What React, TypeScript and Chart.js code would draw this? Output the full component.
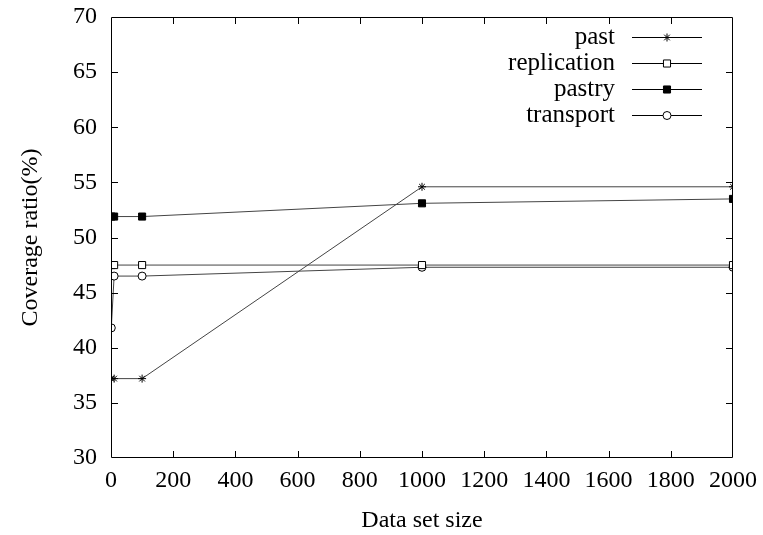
import React, { useEffect, useRef } from "react";
import { Chart, registerables } from "chart.js";

Chart.register(...registerables);

const dataSizes = [1, 10, 100, 1000, 2000];
const pastValues = [37.2, 37.2, 37.2, 54.6, 54.6];
const replicationValues = [47.5, 47.5, 47.5, 47.5, 47.5];
const pastryValues = [51.9, 51.9, 51.9, 53.1, 53.5];
const transportValues = [41.8, 46.5, 46.5, 47.3, 47.3];
const seriesNames = ["past", "replication", "pastry", "transport"];
const xTicks = [0, 200, 400, 600, 800, 1000, 1200, 1400, 1600, 1800, 2000];
const yTicks = [30, 35, 40, 45, 50, 55, 60, 65, 70];

const FONT = "'Liberation Serif', 'Times New Roman', serif";
const LINE = "#444";

function marker(ctx: CanvasRenderingContext2D, style: string, fill: string, r: number, x: number, y: number) {
  ctx.save();
  ctx.strokeStyle = "#000";
  ctx.fillStyle = fill;
  ctx.lineWidth = 1;
  ctx.beginPath();
  if (style === "star") {
    ctx.moveTo(x - r, y); ctx.lineTo(x + r, y);
    ctx.moveTo(x, y - r); ctx.lineTo(x, y + r);
    const d = r * 0.707;
    ctx.moveTo(x - d, y - d); ctx.lineTo(x + d, y + d);
    ctx.moveTo(x - d, y + d); ctx.lineTo(x + d, y - d);
    ctx.stroke();
  } else if (style === "rect") {
    const d = r * 0.707;
    ctx.rect(x - d, y - d, 2 * d, 2 * d);
    ctx.fill();
    ctx.stroke();
  } else {
    ctx.arc(x, y, r, 0, Math.PI * 2);
    ctx.fill();
    ctx.stroke();
  }
  ctx.restore();
}

const mirrorTicks = {
  id: "mirrorTicks",
  afterDatasetsDraw(chart: any) {
    const { ctx, chartArea, scales } = chart;
    const { left, right, top, bottom } = chartArea;
    ctx.save();
    ctx.strokeStyle = "#000";
    ctx.lineWidth = 1;
    ctx.beginPath();
    ctx.rect(left + 0.5, top + 0.5, right - left - 1, bottom - top - 1);
    ctx.stroke();
    const L = 7;
    ctx.beginPath();
    for (const v of xTicks) {
      if (v === 0 || v === 2000) continue;
      const x = Math.round(scales.x.getPixelForValue(v)) + 0.5;
      ctx.moveTo(x, bottom);
      ctx.lineTo(x, bottom - L);
      ctx.moveTo(x, top);
      ctx.lineTo(x, top + L);
    }
    for (const v of yTicks) {
      if (v === 30 || v === 70) continue;
      const y = Math.round(scales.y.getPixelForValue(v)) + 0.5;
      ctx.moveTo(left, y);
      ctx.lineTo(left + L, y);
      ctx.moveTo(right, y);
      ctx.lineTo(right - L, y);
    }
    ctx.stroke();

    ctx.font = `25px ${FONT}`;
    ctx.textAlign = "right";
    ctx.textBaseline = "middle";
    chart.data.datasets.forEach((ds: any, i: number) => {
      const y = 37 + i * 26;
      ctx.fillStyle = "#000";
      ctx.fillText(seriesNames[i], 615, y);
      ctx.strokeStyle = "#000";
      ctx.lineWidth = 1;
      ctx.beginPath();
      ctx.moveTo(632, y + 0.5);
      ctx.lineTo(702, y + 0.5);
      ctx.stroke();
      marker(ctx, ds.pointStyle, ds.pointBackgroundColor, ds.pointRadius, 667, y + 0.5);
    });
    ctx.restore();
  },
};

export default function App() {
  const ref = useRef<HTMLCanvasElement>(null);
  useEffect(() => {
    document.body.style.margin = "0";
    const mk = (label: string, vals: number[], style: string, fill: string, r: number) => ({
      label,
      data: dataSizes.map((x, i) => ({ x, y: vals[i] })),
      borderColor: LINE,
      borderWidth: 1,
      pointStyle: style,
      pointRadius: r,
      pointBackgroundColor: fill,
      pointBorderColor: "#000",
      pointBorderWidth: 1,
      backgroundColor: fill,
      showLine: true,
      tension: 0,
    });
    const chart = new Chart(ref.current!, {
      type: "scatter",
      data: {
        datasets: [
          mk(seriesNames[0], pastValues, "star", "#000", 4),
          mk(seriesNames[1], replicationValues, "rect", "#fff", 5),
          mk(seriesNames[2], pastryValues, "rect", "#000", 5),
          mk(seriesNames[3], transportValues, "circle", "#fff", 4),
        ],
      },
      options: {
        animation: false,
        responsive: false,
        layout: { padding: { top: 17, right: 30, left: 16, bottom: 0 } },
        plugins: { legend: { display: false }, tooltip: { enabled: false } },
        scales: {
          x: {
            type: "linear",
            min: 0,
            max: 2000,
            afterBuildTicks: (s: any) => {
              s.ticks = xTicks.map((v) => ({ value: v }));
            },
            afterFit: (s: any) => {
              s.height = 77;
              s.paddingLeft = 0;
              s.paddingRight = 0;
            },
            grid: { display: false, drawTicks: false },
            border: { display: false },
            ticks: {
              color: "#000",
              font: { family: FONT, size: 24 },
              padding: 8,
              maxRotation: 0,
              autoSkip: false,
              callback: (v: any) => String(v),
            },
            title: {
              display: true,
              text: "Data set size",
              color: "#000",
              font: { family: FONT, size: 24 },
              padding: { top: 11, bottom: 0 },
            },
          },
          y: {
            type: "linear",
            min: 30,
            max: 70,
            afterBuildTicks: (s: any) => {
              s.ticks = yTicks.map((v) => ({ value: v }));
            },
            afterFit: (s: any) => {
              s.width = 95;
              s.paddingTop = 0;
              s.paddingBottom = 0;
            },
            grid: { display: false, drawTicks: false },
            border: { display: false },
            ticks: {
              color: "#000",
              font: { family: FONT, size: 24 },
              padding: 14,
              autoSkip: false,
              callback: (v: any) => String(v),
            },
            title: {
              display: true,
              text: "Coverage ratio(%)",
              color: "#000",
              font: { family: FONT, size: 24 },
              padding: { top: 0, bottom: 0 },
            },
          },
        },
      },
      plugins: [mirrorTicks],
    } as any);
    return () => chart.destroy();
  }, []);
  return (
    <div style={{ width: 763, height: 535, background: "#fff" }}>
      <canvas ref={ref} width={763} height={535} style={{ width: 763, height: 535, display: "block" }} />
    </div>
  );
}
